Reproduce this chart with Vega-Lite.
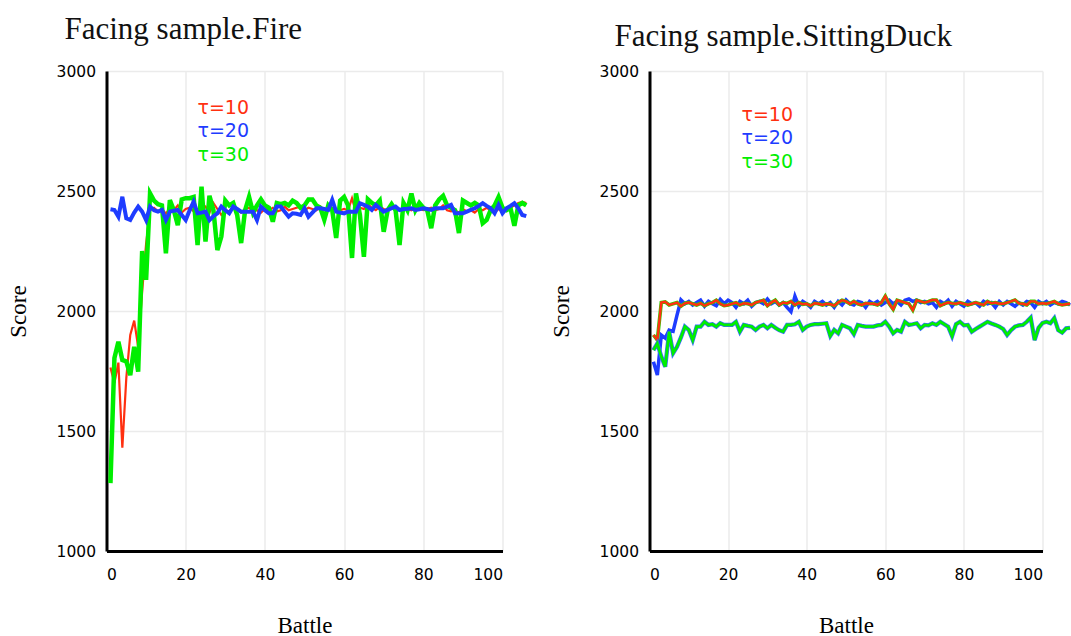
{
  "$schema": "https://vega.github.io/schema/vega-lite/v6.json",
  "background": "white",
  "padding": {"left": 6.5, "top": 14, "right": 0, "bottom": 0},
  "bounds": "flush",
  "spacing": 147,
  "datasets": {
    "d": [
      {"b":1,"f10":1765,"f20":2424,"f30":1283,"s10":1900,"s20":1789,"s30":1837},
      {"b":2,"f10":1700,"f20":2421,"f30":1804,"s10":1879,"s20":1733,"s30":1865},
      {"b":3,"f10":1785,"f20":2393,"f30":1872,"s10":2035,"s20":1900,"s30":1810},
      {"b":4,"f10":1430,"f20":2476,"f30":1796,"s10":2038,"s20":1887,"s30":1768},
      {"b":5,"f10":1720,"f20":2386,"f30":1790,"s10":2025,"s20":1920,"s30":1914},
      {"b":6,"f10":1900,"f20":2379,"f30":1733,"s10":2030,"s20":1915,"s30":1824},
      {"b":7,"f10":1960,"f20":2410,"f30":1851,"s10":2035,"s20":1983,"s30":1851},
      {"b":8,"f10":1850,"f20":2435,"f30":1747,"s10":2020,"s20":2046,"s30":1890},
      {"b":9,"f10":2080,"f20":2414,"f30":2250,"s10":2032,"s20":2030,"s30":1935},
      {"b":10,"f10":2280,"f20":2379,"f30":2130,"s10":2035,"s20":2040,"s30":1921},
      {"b":11,"f10":2420,"f20":2435,"f30":2490,"s10":2030,"s20":2025,"s30":1879},
      {"b":12,"f10":2430,"f20":2420,"f30":2460,"s10":2025,"s20":2035,"s30":1935},
      {"b":13,"f10":2415,"f20":2414,"f30":2445,"s10":2032,"s20":2045,"s30":1935},
      {"b":14,"f10":2425,"f20":2421,"f30":2440,"s10":2022,"s20":2020,"s30":1955},
      {"b":15,"f10":2405,"f20":2379,"f30":2240,"s10":2030,"s20":2040,"s30":1942},
      {"b":16,"f10":2430,"f20":2414,"f30":2462,"s10":2035,"s20":2030,"s30":1945},
      {"b":17,"f10":2420,"f20":2418,"f30":2420,"s10":2045,"s20":2022,"s30":1935},
      {"b":18,"f10":2440,"f20":2421,"f30":2358,"s10":2030,"s20":2048,"s30":1949},
      {"b":19,"f10":2410,"f20":2400,"f30":2465,"s10":2022,"s20":2030,"s30":1942},
      {"b":20,"f10":2425,"f20":2379,"f30":2470,"s10":2025,"s20":2045,"s30":1942},
      {"b":21,"f10":2430,"f20":2420,"f30":2470,"s10":2030,"s20":2035,"s30":1942},
      {"b":22,"f10":2415,"f20":2456,"f30":2475,"s10":2035,"s20":2015,"s30":1955},
      {"b":23,"f10":2405,"f20":2407,"f30":2275,"s10":2025,"s20":2040,"s30":1914},
      {"b":24,"f10":2420,"f20":2410,"f30":2518,"s10":2032,"s20":2030,"s30":1942},
      {"b":25,"f10":2435,"f20":2414,"f30":2289,"s10":2030,"s20":2045,"s30":1938},
      {"b":26,"f10":2410,"f20":2379,"f30":2480,"s10":2025,"s20":2020,"s30":1935},
      {"b":27,"f10":2450,"f20":2395,"f30":2420,"s10":2035,"s20":2035,"s30":1921},
      {"b":28,"f10":2425,"f20":2407,"f30":2254,"s10":2040,"s20":2040,"s30":1935},
      {"b":29,"f10":2400,"f20":2435,"f30":2310,"s10":2045,"s20":2030,"s30":1942},
      {"b":30,"f10":2420,"f20":2420,"f30":2460,"s10":2022,"s20":2050,"s30":1928},
      {"b":31,"f10":2415,"f20":2407,"f30":2440,"s10":2035,"s20":2030,"s30":1942},
      {"b":32,"f10":2430,"f20":2435,"f30":2450,"s10":2045,"s20":2040,"s30":1930},
      {"b":33,"f10":2420,"f20":2425,"f30":2400,"s10":2025,"s20":2025,"s30":1920},
      {"b":34,"f10":2410,"f20":2414,"f30":2283,"s10":2035,"s20":2035,"s30":1914},
      {"b":35,"f10":2425,"f20":2414,"f30":2420,"s10":2032,"s20":2015,"s30":1942},
      {"b":36,"f10":2430,"f20":2414,"f30":2475,"s10":2040,"s20":1997,"s30":1942},
      {"b":37,"f10":2415,"f20":2414,"f30":2410,"s10":2025,"s20":2062,"s30":1945},
      {"b":38,"f10":2420,"f20":2379,"f30":2440,"s10":2035,"s20":2020,"s30":1955},
      {"b":39,"f10":2410,"f20":2435,"f30":2465,"s10":2028,"s20":2040,"s30":1921},
      {"b":40,"f10":2425,"f20":2420,"f30":2440,"s10":2030,"s20":2030,"s30":1935},
      {"b":41,"f10":2420,"f20":2407,"f30":2430,"s10":2022,"s20":2015,"s30":1942},
      {"b":42,"f10":2430,"f20":2407,"f30":2372,"s10":2032,"s20":2040,"s30":1945},
      {"b":43,"f10":2415,"f20":2435,"f30":2450,"s10":2030,"s20":2030,"s30":1945},
      {"b":44,"f10":2420,"f20":2435,"f30":2445,"s10":2025,"s20":2040,"s30":1947},
      {"b":45,"f10":2435,"f20":2414,"f30":2450,"s10":2030,"s20":2025,"s30":1949},
      {"b":46,"f10":2420,"f20":2393,"f30":2440,"s10":2028,"s20":2035,"s30":1896},
      {"b":47,"f10":2425,"f20":2407,"f30":2460,"s10":2022,"s20":2015,"s30":1921},
      {"b":48,"f10":2430,"f20":2405,"f30":2450,"s10":2035,"s20":2040,"s30":1907},
      {"b":49,"f10":2435,"f20":2400,"f30":2430,"s10":2045,"s20":2025,"s30":1942},
      {"b":50,"f10":2420,"f20":2428,"f30":2440,"s10":2040,"s20":2046,"s30":1935},
      {"b":51,"f10":2430,"f20":2393,"f30":2465,"s10":2030,"s20":2030,"s30":1928},
      {"b":52,"f10":2425,"f20":2410,"f30":2465,"s10":2040,"s20":2025,"s30":1904},
      {"b":53,"f10":2420,"f20":2428,"f30":2440,"s10":2030,"s20":2040,"s30":1942},
      {"b":54,"f10":2435,"f20":2428,"f30":2430,"s10":2025,"s20":2035,"s30":1938},
      {"b":55,"f10":2420,"f20":2425,"f30":2380,"s10":2032,"s20":2015,"s30":1935},
      {"b":56,"f10":2425,"f20":2421,"f30":2440,"s10":2030,"s20":2040,"s30":1935},
      {"b":57,"f10":2430,"f20":2463,"f30":2420,"s10":2030,"s20":2030,"s30":1935},
      {"b":58,"f10":2415,"f20":2414,"f30":2304,"s10":2025,"s20":2040,"s30":1940},
      {"b":59,"f10":2420,"f20":2410,"f30":2460,"s10":2035,"s20":2025,"s30":1942},
      {"b":60,"f10":2425,"f20":2407,"f30":2475,"s10":2062,"s20":2035,"s30":1955},
      {"b":61,"f10":2420,"f20":2414,"f30":2440,"s10":2030,"s20":2045,"s30":1935},
      {"b":62,"f10":2470,"f20":2414,"f30":2221,"s10":2007,"s20":2030,"s30":1907},
      {"b":63,"f10":2410,"f20":2414,"f30":2490,"s10":2045,"s20":2040,"s30":1921},
      {"b":64,"f10":2430,"f20":2449,"f30":2400,"s10":2040,"s20":2025,"s30":1914},
      {"b":65,"f10":2425,"f20":2442,"f30":2226,"s10":2035,"s20":2045,"s30":1955},
      {"b":66,"f10":2445,"f20":2435,"f30":2465,"s10":2030,"s20":2050,"s30":1942},
      {"b":67,"f10":2430,"f20":2421,"f30":2450,"s10":2004,"s20":2040,"s30":1945},
      {"b":68,"f10":2420,"f20":2442,"f30":2440,"s10":2045,"s20":2045,"s30":1949},
      {"b":69,"f10":2435,"f20":2428,"f30":2460,"s10":2040,"s20":2035,"s30":1928},
      {"b":70,"f10":2425,"f20":2414,"f30":2330,"s10":2035,"s20":2040,"s30":1942},
      {"b":71,"f10":2420,"f20":2421,"f30":2420,"s10":2040,"s20":2030,"s30":1940},
      {"b":72,"f10":2430,"f20":2428,"f30":2445,"s10":2046,"s20":2035,"s30":1949},
      {"b":73,"f10":2425,"f20":2435,"f30":2420,"s10":2046,"s20":2015,"s30":1942},
      {"b":74,"f10":2420,"f20":2421,"f30":2275,"s10":2022,"s20":2040,"s30":1955},
      {"b":75,"f10":2430,"f20":2425,"f30":2450,"s10":2030,"s20":2030,"s30":1945},
      {"b":76,"f10":2425,"f20":2426,"f30":2420,"s10":2035,"s20":2045,"s30":1935},
      {"b":77,"f10":2420,"f20":2428,"f30":2490,"s10":2032,"s20":2020,"s30":1895},
      {"b":78,"f10":2430,"f20":2421,"f30":2420,"s10":2030,"s20":2040,"s30":1945},
      {"b":79,"f10":2425,"f20":2424,"f30":2450,"s10":2035,"s20":2030,"s30":1955},
      {"b":80,"f10":2420,"f20":2428,"f30":2430,"s10":2030,"s20":2020,"s30":1940},
      {"b":81,"f10":2425,"f20":2425,"f30":2420,"s10":2025,"s20":2040,"s30":1942},
      {"b":82,"f10":2430,"f20":2421,"f30":2345,"s10":2030,"s20":2030,"s30":1914},
      {"b":83,"f10":2420,"f20":2428,"f30":2440,"s10":2035,"s20":2035,"s30":1925},
      {"b":84,"f10":2425,"f20":2428,"f30":2465,"s10":2030,"s20":2020,"s30":1935},
      {"b":85,"f10":2440,"f20":2428,"f30":2480,"s10":2025,"s20":2040,"s30":1945},
      {"b":86,"f10":2420,"f20":2435,"f30":2440,"s10":2040,"s20":2030,"s30":1955},
      {"b":87,"f10":2415,"f20":2442,"f30":2430,"s10":2032,"s20":2035,"s30":1948},
      {"b":88,"f10":2420,"f20":2407,"f30":2420,"s10":2035,"s20":2015,"s30":1942},
      {"b":89,"f10":2410,"f20":2407,"f30":2325,"s10":2030,"s20":2040,"s30":1935},
      {"b":90,"f10":2425,"f20":2407,"f30":2460,"s10":2030,"s20":2025,"s30":1925},
      {"b":91,"f10":2415,"f20":2414,"f30":2450,"s10":2035,"s20":2040,"s30":1900},
      {"b":92,"f10":2420,"f20":2421,"f30":2440,"s10":2040,"s20":2030,"s30":1920},
      {"b":93,"f10":2410,"f20":2428,"f30":2450,"s10":2046,"s20":2020,"s30":1935},
      {"b":94,"f10":2425,"f20":2438,"f30":2440,"s10":2032,"s20":2035,"s30":1940},
      {"b":95,"f10":2420,"f20":2449,"f30":2366,"s10":2030,"s20":2025,"s30":1942},
      {"b":96,"f10":2430,"f20":2438,"f30":2380,"s10":2025,"s20":2040,"s30":1955},
      {"b":97,"f10":2420,"f20":2428,"f30":2420,"s10":2040,"s20":2035,"s30":1972},
      {"b":98,"f10":2410,"f20":2407,"f30":2440,"s10":2040,"s20":2015,"s30":1879},
      {"b":99,"f10":2425,"f20":2442,"f30":2475,"s10":2030,"s20":2040,"s30":1930},
      {"b":100,"f10":2415,"f20":2407,"f30":2430,"s10":2032,"s20":2030,"s30":1950},
      {"b":101,"f10":2420,"f20":2428,"f30":2420,"s10":2030,"s20":2040,"s30":1955},
      {"b":102,"f10":2430,"f20":2438,"f30":2430,"s10":2035,"s20":2025,"s30":1949},
      {"b":103,"f10":2440,"f20":2449,"f30":2355,"s10":2040,"s20":2035,"s30":1970},
      {"b":104,"f10":2450,"f20":2428,"f30":2440,"s10":2030,"s20":2030,"s30":1920},
      {"b":105,"f10":2455,"f20":2400,"f30":2450,"s10":2025,"s20":2040,"s30":1910},
      {"b":106,"f10":2450,"f20":2395,"f30":2440,"s10":2028,"s20":2035,"s30":1928},
      {"b":107,"s10":2030,"s20":2025,"s30":1930}
    ]
  },
  "data": {"name": "d"},
  "config": {
    "view": {"stroke": null},
    "axis": {
      "grid": true, "gridColor": "#ebebeb", "gridWidth": 1.5,
      "domainColor": "#000000", "domainWidth": 3, "ticks": false,
      "labelFont": "DejaVu Sans", "labelFontSize": 15.5, "labelColor": "#000000",
      "titleFont": "Liberation Serif", "titleFontSize": 23, "titleFontWeight": "normal", "titleColor": "#000000"
    },
    "title": {"font": "Liberation Serif", "fontSize": 31, "fontWeight": "normal", "color": "#111111", "anchor": "start", "frame": "group"}
  },
  "resolve": {"scale": {"color": "independent"}, "legend": {"color": "independent"}},
  "hconcat": [
    {
      "width": 396, "height": 480,
      "title": {"text": "Facing sample.Fire", "dx": -42, "offset": 18},
      "encoding": {
        "x": {"field": "b", "type": "quantitative", "scale": {"domain": [0, 100], "nice": false},
              "axis": {"values": [0, 20, 40, 60, 80, 100], "format": "d", "title": "Battle", "labelFontSize": 15.5, "labelPadding": 16, "titlePadding": 32}}
      },
      "layer": [
        {
          "mark": {"type": "line", "clip": false, "strokeWidth": 2.2},
          "encoding": {
            "y": {"field": "f10", "type": "quantitative", "scale": {"domain": [1000, 3000], "nice": false, "zero": false},
                  "axis": {"values": [1000, 1500, 2000, 2500, 3000], "format": "d", "title": "Score", "labelFontSize": 15.5, "labelPadding": 11, "titlePadding": 25.6}},
            "color": {
              "datum": "τ=10",
              "scale": {"domain": ["τ=10", "τ=20", "τ=30"], "range": ["#ff3010", "#1e3cff", "#00ee00"]},
              "legend": {
                "orient": "none", "legendX": 72, "legendY": 27, "title": null,
                "symbolSize": 0, "symbolOpacity": 0, "symbolStrokeWidth": 0,
                "labelFont": "DejaVu Sans", "labelFontSize": 19, "rowPadding": 3.5, "labelOffset": 0, "padding": 0,
                "encode": {"labels": {"update": {"fill": {"signal": "datum.label === 'τ=10' ? '#ff3010' : datum.label === 'τ=20' ? '#1e3cff' : '#00ee00'"}}}}
              }
            }
          }
        },
        {
          "mark": {"type": "line", "clip": false, "strokeWidth": 4.5},
          "encoding": {
            "y": {"field": "f30", "type": "quantitative", "scale": {"domain": [1000, 3000], "nice": false, "zero": false},
                  "axis": {"values": [1000, 1500, 2000, 2500, 3000], "format": "d", "title": "Score", "labelFontSize": 15.5, "labelPadding": 11, "titlePadding": 25.6}},
            "color": {"datum": "τ=30"}
          }
        },
        {
          "mark": {"type": "line", "clip": false, "strokeWidth": 4},
          "encoding": {
            "y": {"field": "f20", "type": "quantitative", "scale": {"domain": [1000, 3000], "nice": false, "zero": false},
                  "axis": {"values": [1000, 1500, 2000, 2500, 3000], "format": "d", "title": "Score", "labelFontSize": 15.5, "labelPadding": 11, "titlePadding": 25.6}},
            "color": {"datum": "τ=20"}
          }
        }
      ]
    },
    {
      "width": 393, "height": 480,
      "title": {"text": "Facing sample.SittingDuck", "dx": -35, "offset": 11},
      "encoding": {
        "x": {"field": "b", "type": "quantitative", "scale": {"domain": [0, 100], "nice": false},
              "axis": {"values": [0, 20, 40, 60, 80, 100], "format": "d", "title": "Battle", "labelFontSize": 15.5, "labelPadding": 16, "titlePadding": 32}}
      },
      "layer": [
        {
          "mark": {"type": "line", "clip": false, "strokeWidth": 3.5},
          "encoding": {
            "y": {"field": "s20", "type": "quantitative", "scale": {"domain": [1000, 3000], "nice": false, "zero": false},
                  "axis": {"values": [1000, 1500, 2000, 2500, 3000], "format": "d", "title": "Score", "labelFontSize": 15.5, "labelPadding": 11, "titlePadding": 25.6}},
            "color": {
              "datum": "τ=20",
              "scale": {"domain": ["τ=10", "τ=20", "τ=30"], "range": ["#ff3010", "#1e3cff", "#00ee00"]},
              "legend": {
                "orient": "none", "legendX": 73, "legendY": 34, "title": null,
                "symbolSize": 0, "symbolOpacity": 0, "symbolStrokeWidth": 0,
                "labelFont": "DejaVu Sans", "labelFontSize": 19, "rowPadding": 3.5, "labelOffset": 0, "padding": 0,
                "encode": {"labels": {"update": {"fill": {"signal": "datum.label === 'τ=10' ? '#ff3010' : datum.label === 'τ=20' ? '#1e3cff' : '#00ee00'"}}}}
              }
            }
          }
        },
        {
          "mark": {"type": "line", "clip": false, "strokeWidth": 3.6, "color": "#33cc00"},
          "encoding": {
            "y": {"field": "s10", "type": "quantitative", "scale": {"domain": [1000, 3000], "nice": false, "zero": false},
                  "axis": {"values": [1000, 1500, 2000, 2500, 3000], "format": "d", "title": "Score", "labelFontSize": 15.5, "labelPadding": 11, "titlePadding": 25.6}}
          }
        },
        {
          "mark": {"type": "line", "clip": false, "strokeWidth": 2.4},
          "encoding": {
            "y": {"field": "s10", "type": "quantitative", "scale": {"domain": [1000, 3000], "nice": false, "zero": false},
                  "axis": {"values": [1000, 1500, 2000, 2500, 3000], "format": "d", "title": "Score", "labelFontSize": 15.5, "labelPadding": 11, "titlePadding": 25.6}},
            "color": {"datum": "τ=10"}
          }
        },
        {
          "mark": {"type": "line", "clip": false, "strokeWidth": 4.2, "color": "#3a6cff"},
          "encoding": {
            "y": {"field": "s30", "type": "quantitative", "scale": {"domain": [1000, 3000], "nice": false, "zero": false},
                  "axis": {"values": [1000, 1500, 2000, 2500, 3000], "format": "d", "title": "Score", "labelFontSize": 15.5, "labelPadding": 11, "titlePadding": 25.6}}
          }
        },
        {
          "mark": {"type": "line", "clip": false, "strokeWidth": 2.8},
          "encoding": {
            "y": {"field": "s30", "type": "quantitative", "scale": {"domain": [1000, 3000], "nice": false, "zero": false},
                  "axis": {"values": [1000, 1500, 2000, 2500, 3000], "format": "d", "title": "Score", "labelFontSize": 15.5, "labelPadding": 11, "titlePadding": 25.6}},
            "color": {"datum": "τ=30"}
          }
        }
      ]
    }
  ]
}
